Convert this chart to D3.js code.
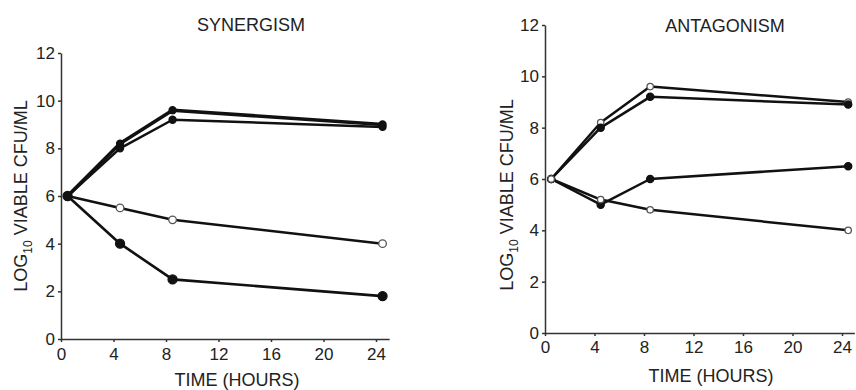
<!DOCTYPE html>
<html>
<head>
  <meta charset="utf-8">
  <title>Synergism / Antagonism</title>
  <script src="https://d3js.org/d3.v7.min.js"></script>
  <style>
    body { margin: 0; background: #fff; }
    svg { font-family: "Liberation Sans", Arial, Helvetica, sans-serif; }
    .axis path, .axis line { stroke: #333; stroke-width: 1.5; }
    .axis text { font-size: 17px; fill: #222; }
    .lbl { font-size: 18px; fill: #222; }
  </style>
</head>
<body>
  <script>
    // sampling times (hours)
    var times = [0.5, 4.5, 8.5, 24.5];
    var xTicks = [0, 4, 8, 12, 16, 20, 24];
    var yTicks = [0, 2, 4, 6, 8, 10, 12];

    // synergism panel, log10 cfu/ml
    var synA = [6, 8.2, 9.6, 9.0];   // filled, heavy
    var synB = [6, 8.0, 9.2, 8.9];   // filled
    var synC = [6, 5.5, 5.0, 4.0];   // open
    var synD = [6, 4.0, 2.5, 1.8];   // filled

    // antagonism panel
    var antA = [6, 8.2, 9.6, 9.0];   // open
    var antB = [6, 8.0, 9.2, 8.9];   // filled
    var antC = [6, 5.0, 6.0, 6.5];   // filled
    var antD = [6, 5.2, 4.8, 4.0];   // open

    var svg = d3.select("body")
      .append("svg")
      .attr("width", 856)
      .attr("height", 390);

    var panels = [
      {
        title: "SYNERGISM", titleX: 251, titleY: 31,
        x0: 61, pxHr: 13.125, yTop: 53, yBot: 339,
        xLabY: 386, xLabX: 237, yLabX: 27, yLabY: 196, tickPad: 6,
        series: [
          { v: synA, open: false, w: 3.6, r: 3.5 },
          { v: synB, open: false, w: 2.5, r: 3.5 },
          { v: synC, open: true, w: 2.5, r: 3.8 },
          { v: synD, open: false, w: 2.6, r: 4.5 }
        ]
      },
      {
        title: "ANTAGONISM", titleX: 725, titleY: 32,
        x0: 545, pxHr: 12.375, yTop: 25, yBot: 333,
        xLabY: 382, xLabX: 711, yLabX: 513, yLabY: 195, tickPad: 5,
        series: [
          { v: antA, open: true, w: 2.5, r: 3.2 },
          { v: antB, open: false, w: 2.5, r: 3.6 },
          { v: antC, open: false, w: 2.5, r: 3.6 },
          { v: antD, open: true, w: 2.5, r: 3.2 }
        ]
      }
    ];

    panels.forEach(function(p) {
      var x = d3.scaleLinear().domain([0, 25]).range([p.x0, p.x0 + 25 * p.pxHr]);
      var y = d3.scaleLinear().domain([0, 12]).range([p.yBot, p.yTop]);
      var g = svg.append("g");

      g.append("g")
        .attr("class", "axis")
        .attr("transform", "translate(0," + p.yBot + ")")
        .call(d3.axisBottom(x).tickValues(xTicks).tickSizeInner(3).tickSizeOuter(0).tickPadding(p.tickPad))
        .call(function(a) { a.selectAll("text").attr("fill", "#222"); });

      g.append("g")
        .attr("class", "axis")
        .attr("transform", "translate(" + p.x0 + ",0)")
        .call(d3.axisLeft(y).tickValues(yTicks).tickSizeInner(3).tickSizeOuter(0).tickPadding(3))
        .call(function(a) { a.selectAll("text").attr("fill", "#222"); });

      g.append("text")
        .attr("class", "lbl")
        .attr("x", p.titleX).attr("y", p.titleY)
        .attr("text-anchor", "middle")
        .text(p.title);

      g.append("text")
        .attr("class", "lbl")
        .attr("x", p.xLabX).attr("y", p.xLabY)
        .attr("text-anchor", "middle")
        .text("TIME (HOURS)");

      var yl = g.append("text")
        .attr("class", "lbl")
        .attr("text-anchor", "middle")
        .attr("transform", "translate(" + p.yLabX + "," + p.yLabY + ") rotate(-90)");
      yl.append("tspan").text("LOG");
      yl.append("tspan").attr("font-size", "12px").attr("dy", 5).text("10");
      yl.append("tspan").attr("dy", -5).text(" VIABLE CFU/ML");

      var line = d3.line()
        .x(function(d, i) { return x(times[i]); })
        .y(function(d) { return y(d); });

      p.series.forEach(function(s) {
        g.append("path")
          .datum(s.v)
          .attr("d", line)
          .attr("fill", "none")
          .attr("stroke", "#111")
          .attr("stroke-width", s.w)
          .attr("stroke-linejoin", "round");
      });

      p.series.forEach(function(s) {
        g.selectAll(null)
          .data(s.v)
          .enter()
          .append("circle")
          .attr("cx", function(d, i) { return x(times[i]); })
          .attr("cy", function(d) { return y(d); })
          .attr("r", s.r)
          .attr("fill", s.open ? "#fff" : "#111")
          .attr("stroke", s.open ? "#555" : "#111")
          .attr("stroke-width", 1.3);
      });
    });
  </script>
</body>
</html>
